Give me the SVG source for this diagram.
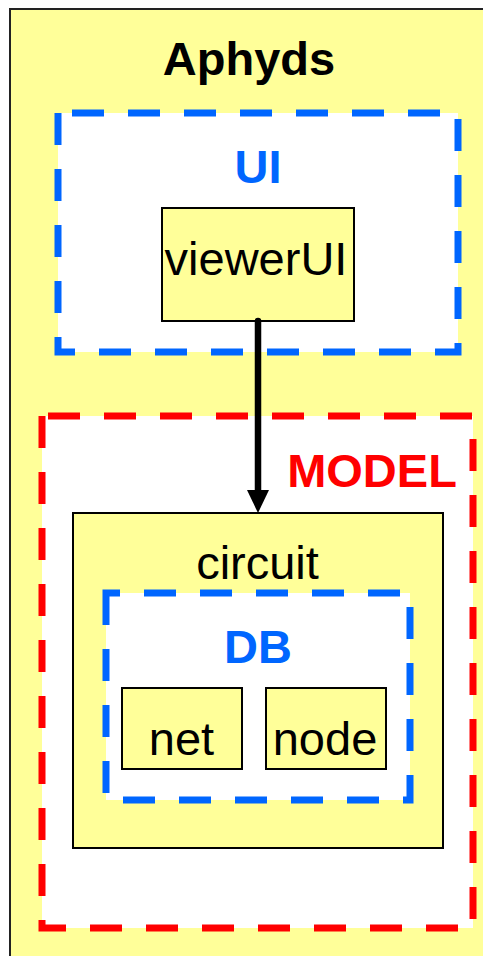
<svg xmlns="http://www.w3.org/2000/svg" width="483" height="956" viewBox="0 0 483 956">
<defs>
<style>
.box{fill:#FFFF99;stroke:#000;stroke-width:2}
.pkg{fill:#fff;stroke-width:7;stroke-dasharray:32 24}
.blue{stroke:#0066FF}
.red{stroke:#FF0000}
.t{font-family:"Liberation Sans",Arial,sans-serif;font-size:47px;text-anchor:middle}
.b{font-weight:bold}
</style>
<marker id="ah" viewBox="0 0 22 23" refX="11" refY="23" markerWidth="22" markerHeight="23" markerUnits="userSpaceOnUse" orient="auto-start-reverse">
<path d="M0,0 L22,0 L11,23 Z" fill="#000"/>
</marker>
</defs>
<rect width="483" height="956" fill="#fff"/>
<g id="aphyds">
<rect x="10" y="9" width="480" height="960" fill="#FFFF99" stroke="#222" stroke-width="2"/>
<text class="t b" x="249" y="75">Aphyds</text>
</g>
<g id="ui">
<path class="pkg blue" d="M58,113 L58,352 L458,352 L458,113 Z"/>
<text class="t b" x="258" y="183" fill="#0066FF">UI</text>
</g>
<g id="viewerUI">
<rect class="box" x="162" y="208" width="192" height="113"/>
<text class="t" x="256" y="275">viewerUI</text>
</g>
<g id="model">
<path class="pkg red" d="M42,416 L42,928 L473,928 L473,416 Z"/>
<text class="t b" x="372" y="487" fill="#FF0000">MODEL</text>
</g>
<g id="circuit">
<rect class="box" x="73" y="513" width="370" height="335"/>
<text class="t" x="257.5" y="579">circuit</text>
</g>
<g id="db">
<path class="pkg blue" d="M106,593 L106,800 L410,800 L410,593 Z"/>
<text class="t b" x="258" y="663" fill="#0066FF">DB</text>
</g>
<g id="net">
<rect class="box" x="122" y="688" width="120" height="81"/>
<text class="t" x="181.5" y="755">net</text>
</g>
<g id="node">
<rect class="box" x="266" y="688" width="120" height="81"/>
<text class="t" x="325" y="755">node</text>
</g>
<g id="connectors">
<line x1="258" y1="321" x2="258" y2="492" stroke="#000" stroke-width="6.5" stroke-linecap="round"/>
<path d="M247,490 L269,490 L258,513 Z" fill="#000"/>
</g>
</svg>
